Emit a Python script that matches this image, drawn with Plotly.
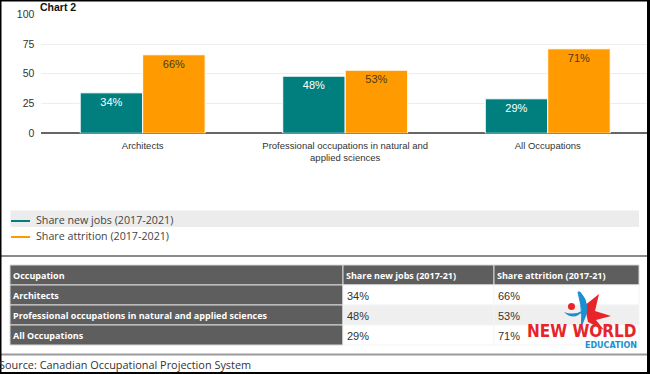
import plotly.graph_objects as go

W, H = 650, 374

categories = ["Architects", "Professional occupations in natural and<br>applied sciences", "All Occupations"]
table_occupations = ["Architects", "Professional occupations in natural and applied sciences", "All Occupations"]
series_names = ["Share new jobs (2017-2021)", "Share attrition (2017-2021)"]
table_headers = ["Occupation", "Share new jobs (2017-21)", "Share attrition (2017-21)"]
new_jobs = [34, 48, 29]
attrition = [66, 53, 71]
y_ticks = [0, 25, 50, 75, 100]

TEAL = "#017f7e"
ORANGE = "#ff9a00"
DARK = "#5e5e5e"


def px(x):
    return x / W


def py(y):
    return 1 - y / H


fig = go.Figure()
fig.add_trace(go.Bar(
    x=categories, y=new_jobs, name=series_names[0],
    marker=dict(color=TEAL, line=dict(color="white", width=1)),
    text=[f"{v}%" for v in new_jobs], textposition="inside", insidetextanchor="end",
    textangle=0, constraintext="none",
    textfont=dict(color="white", size=11, family="Arial, Liberation Sans"),
    showlegend=False, hoverinfo="skip",
))
fig.add_trace(go.Bar(
    x=categories, y=attrition, name=series_names[1],
    marker=dict(color=ORANGE, line=dict(color="white", width=1)),
    text=[f"{v}%" for v in attrition], textposition="inside", insidetextanchor="end",
    textangle=0, constraintext="none",
    textfont=dict(color="#4a3a1a", size=11, family="Arial, Liberation Sans"),
    showlegend=False, hoverinfo="skip",
))

shapes = []
annotations = []

# Chart title
annotations.append(dict(text="<b>Chart 2</b>", x=px(38), y=py(7), xref="paper", yref="paper",
                        xanchor="left", yanchor="middle", showarrow=False,
                        font=dict(size=10.5, color="#111", family="Arial, Liberation Sans")))

# Legend (manual)
shapes.append(dict(type="rect", xref="paper", yref="paper", x0=px(10.5), x1=px(639), y0=py(227), y1=py(210.5),
                   fillcolor="#ececec", line=dict(width=0), layer="below"))
for i, (name, col) in enumerate(zip(series_names, [TEAL, ORANGE])):
    yc = 221 + 16 * i
    shapes.append(dict(type="line", xref="paper", yref="paper", x0=px(11), x1=px(30), y0=py(yc), y1=py(yc),
                       line=dict(color=col, width=2)))
    annotations.append(dict(text=name, x=px(34), y=py(yc - 1.5), xref="paper", yref="paper",
                            xanchor="left", yanchor="middle", showarrow=False,
                            font=dict(size=10.7, color="#444", family="Open Sans, Arial")))

# separators
shapes.append(dict(type="line", xref="paper", yref="paper", x0=0, x1=px(647), y0=py(256), y1=py(256),
                   line=dict(color="#8a8a8a", width=2)))
shapes.append(dict(type="line", xref="paper", yref="paper", x0=0, x1=px(647), y0=py(354.5), y1=py(354.5),
                   line=dict(color="#9a9a9a", width=2)))

# table (drawn manually)
col_edges = [10, 343, 494, 639]
row_top, row_h = 265, 20
rows = [table_headers] + [[o, f"{a}%", f"{b}%"] for o, a, b in zip(table_occupations, new_jobs, attrition)]
for r, row in enumerate(rows):
    y0 = row_top + r * row_h
    y1 = y0 + row_h
    for c, val in enumerate(row):
        x0, x1 = col_edges[c], col_edges[c + 1]
        dark = (r == 0 or c == 0)
        if dark:
            fill = DARK
        else:
            fill = "#efefef" if r % 2 == 0 else "white"
        shapes.append(dict(type="rect", xref="paper", yref="paper", x0=px(x0), x1=px(x1),
                           y0=py(y1), y1=py(y0), fillcolor=fill,
                           line=dict(color="#d8d8d8" if dark else "#f4f4f4", width=1), layer="below"))
        if dark:
            annotations.append(dict(text=f"<b>{val}</b>", x=px(x0 + 1), y=py(y0 + 10), xref="paper", yref="paper",
                                    xanchor="left", yanchor="middle", showarrow=False,
                                    font=dict(size=9, color="white", family="Open Sans, Arial")))
        else:
            annotations.append(dict(text=val, x=px(x0 + 2), y=py(y0 + 10.5), xref="paper", yref="paper",
                                    xanchor="left", yanchor="middle", showarrow=False,
                                    font=dict(size=11, color="#333", family="Arial, Liberation Sans")))

# source
annotations.append(dict(text="Source: Canadian Occupational Projection System", x=px(-3), y=py(364.5),
                        xref="paper", yref="paper", xanchor="left", yanchor="middle", showarrow=False,
                        font=dict(size=10.9, color="#333", family="Open Sans, Arial")))

# logo (approximation)
shapes.append(dict(type="path", xref="paper", yref="paper", layer="above",
                   path=f"M {px(584)},{py(306)} L {px(599)},{py(294)} L {px(595)},{py(311)} "
                        f"L {px(611)},{py(316)} L {px(596)},{py(320)} L {px(604)},{py(330)} "
                        f"L {px(588)},{py(322)} L {px(586)},{py(312)} Z",
                   fillcolor="#e8242b", line=dict(width=0)))
shapes.append(dict(type="path", xref="paper", yref="paper", layer="above",
                   path=f"M {px(580)},{py(292)} Q {px(592)},{py(305)} {px(583)},{py(322)} "
                        f"L {px(579)},{py(336)} Q {px(585)},{py(318)} {px(578)},{py(292)} Z",
                   fillcolor="#1b8fd2", line=dict(color="#1b8fd2", width=1)))
shapes.append(dict(type="path", xref="paper", yref="paper", layer="above",
                   path=f"M {px(564)},{py(312)} Q {px(574)},{py(316)} {px(584)},{py(310)} "
                        f"Q {px(574)},{py(322)} {px(564)},{py(312)} Z",
                   fillcolor="#1b8fd2", line=dict(width=0)))
shapes.append(dict(type="circle", xref="paper", yref="paper", layer="above",
                   x0=px(568), x1=px(575), y0=py(310), y1=py(303),
                   fillcolor="#e8242b", line=dict(width=0)))
annotations.append(dict(text="<b>NEW WORLD</b>", x=px(639), y=py(331), xref="paper", yref="paper",
                        xanchor="right", yanchor="middle", showarrow=False,
                        font=dict(size=17, color="#e8242b", family="DejaVu Sans Condensed, Arial")))
annotations.append(dict(text="<b>EDUCATION</b>", x=px(639), y=py(345), xref="paper", yref="paper",
                        xanchor="right", yanchor="middle", showarrow=False,
                        font=dict(size=8, color="#1b8fd2", family="DejaVu Sans, Arial")))

# black frame
shapes.append(dict(type="line", xref="paper", yref="paper", x0=px(0.75), x1=px(0.75), y0=0, y1=1,
                   line=dict(color="black", width=1.5)))
shapes.append(dict(type="line", xref="paper", yref="paper", x0=px(648.5), x1=px(648.5), y0=0, y1=1,
                   line=dict(color="black", width=3)))
shapes.append(dict(type="line", xref="paper", yref="paper", x0=0, x1=1, y0=py(0.75), y1=py(0.75),
                   line=dict(color="black", width=1.5)))
shapes.append(dict(type="line", xref="paper", yref="paper", x0=0, x1=1, y0=py(373), y1=py(373),
                   line=dict(color="black", width=2)))

fig.update_layout(
    width=W, height=H,
    margin=dict(l=0, r=0, t=0, b=0, autoexpand=False),
    paper_bgcolor="white", plot_bgcolor="white",
    barmode="group", bargap=0.383, bargroupgap=0,
    font=dict(family="Arial, Liberation Sans", color="#333"),
    xaxis=dict(domain=[px(41.4), px(649)], showgrid=False, showline=False, zeroline=False, automargin=False,
               tickfont=dict(size=9.5, color="#333"), ticks="", ticklabelstandoff=5, fixedrange=True),
    yaxis=dict(domain=[py(133.3), py(14.3)], range=[0, 100], tickvals=y_ticks, automargin=False,
               showgrid=True, gridcolor="#ededed", gridwidth=1,
               zeroline=True, zerolinecolor="#666", zerolinewidth=1.5,
               tickfont=dict(size=10.5, color="#333"), ticks="", ticklabelstandoff=6,
               fixedrange=True),
    shapes=shapes, annotations=annotations,
    showlegend=False,
)

fig.write_html("out.html", config={"displayModeBar": False},
               post_script="document.body.style.margin='0';document.body.style.overflow='hidden';")
